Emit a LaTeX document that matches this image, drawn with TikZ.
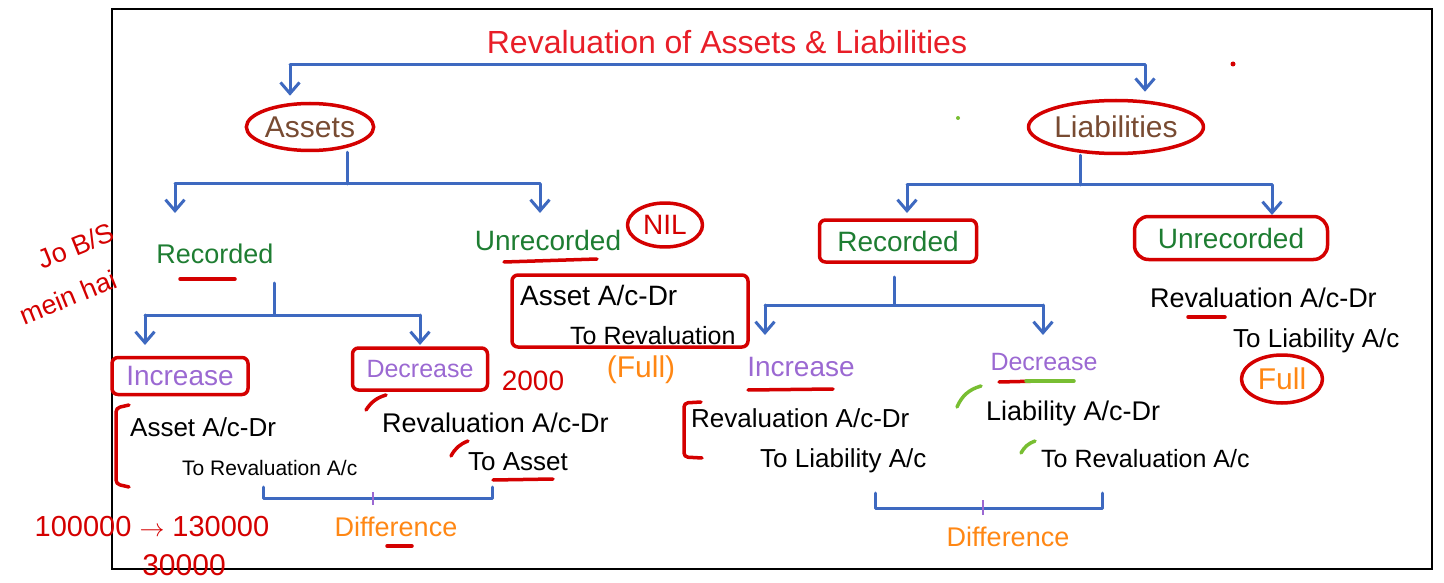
\documentclass[tikz,border=0pt]{standalone}
\usepackage{fontspec}
\setmainfont{Liberation Sans}
\usetikzlibrary{arrows.meta,shapes.geometric}
\definecolor{bluC}{RGB}{62,105,192}
\definecolor{redC}{RGB}{212,0,0}
\definecolor{titleC}{RGB}{232,30,40}
\definecolor{grnC}{RGB}{30,125,50}
\definecolor{purC}{RGB}{155,105,210}
\definecolor{brnC}{RGB}{120,75,50}
\definecolor{orgC}{RGB}{255,135,20}
\definecolor{limeC}{RGB}{120,190,50}
\begin{document}
\begin{tikzpicture}[x=1pt,y=-1pt,
  bl/.style={draw=bluC,line width=3pt,line cap=round,line join=round},
  bla/.style={bl,-{Straight Barb[length=11pt,width=19pt]}},
  rd/.style={draw=redC,line width=3.5pt,line cap=round,line join=round},
  lm/.style={draw=limeC,line width=3.5pt,line cap=round},
  fs/.style={font=\fontsize{#1}{#1}\selectfont},
  txt/.style={inner sep=0pt,text=black},
  gtxt/.style={inner sep=0pt,text=grnC},
  ptxt/.style={inner sep=0pt,text=purC},
  otxt/.style={inner sep=0pt,text=orgC},
  rtxt/.style={inner sep=0pt,text=redC},
  redell/.style={ellipse,rd,inner sep=0pt},
  redbox/.style={rectangle,rd,rounded corners=6pt,inner sep=0pt}]
\useasboundingbox (0,0) rectangle (1444,583);
\draw[line width=2pt] (112,9) rectangle (1432,569);

% title and top branch
\node[inner sep=0pt,text=titleC,fs=32] (title) at (727,42) {Revaluation of Assets \& Liabilities};
\coordinate (tL) at (290,65);
\coordinate (tR) at (1145,65);
\node[redell,text=brnC,fs=30,minimum width=126pt,minimum height=47pt] (assets) at (310,127) {Assets};
\node[redell,text=brnC,fs=30,minimum width=175pt,minimum height=53pt] (liab) at (1116,127) {Liabilities};
\draw[bl] (tL) -- (tR);
\draw[bla] (tL) -- (tL |- assets.north) [shorten >=6pt];
\draw[bla] (tR) -- (tR |- liab.north) [shorten >=7pt];

% ---------- Assets side ----------
\node[gtxt,fs=27] (recA) at (215,254) {Recorded};
\node[gtxt,fs=28] (unrA) at (548,240) {Unrecorded};
\node[redell,text=redC,fs=28,minimum width=75pt,minimum height=44pt] (nil) at (665,225) {NIL};
\coordinate (aJ) at (347,184);
\coordinate (aL) at (175,184);
\coordinate (aR) at (540,184);
\coordinate (aLt) at (175,213);
\coordinate (aRt) at (540,213);
\draw[bl] (assets.south -| aJ) -- (aJ);
\draw[bl] (aL) -- (aR);
\draw[bla] (aL) -- (aLt);
\draw[bla] (aR) -- (aRt);
\draw[rd] (180,279) -- (235,279);
\draw[rd] (504,262) -- (597,259);

% unrecorded asset entry
\node[redbox,minimum width=236pt,minimum height=72pt] (ubox) at (630,311) {};
\node[txt,fs=28,anchor=west] (uA1) at (520,295) {Asset A/c-Dr};
\node[txt,fs=25,anchor=west] (uA2) at (570,336) {To Revaluation};
\node[otxt,fs=30] (fullA) at (641,370) {(Full)};

% recorded asset branches
\coordinate (rJtop) at (274,283);
\coordinate (rJ) at (274,315);
\coordinate (rL) at (145,315);
\coordinate (rR) at (420,315);
\coordinate (rLt) at (145,345);
\coordinate (rRt) at (420,345);
\draw[bl] (rJtop) -- (rJ);
\draw[bl] (rL) -- (rR);
\draw[bla] (rL) -- (rLt);
\draw[bla] (rR) -- (rRt);
\node[redbox,ptxt,fs=28,minimum width=136pt,minimum height=37pt] (incA) at (180,376) {Increase};
\node[redbox,ptxt,fs=25,minimum width=135pt,minimum height=42pt] (decA) at (420,369) {Decrease};
\node[rtxt,fs=28] (n2000) at (533,381) {2000};
\draw[rd] (366,410) to[bend left=20] (386,395);
\draw[rd] (451,456) to[bend left=20] (468,441);

\draw[rd,rounded corners=4pt] (129,405) -- (116,408) -- (116,484) -- (129,487);
\node[txt,fs=26,anchor=west] (iA1) at (130,427) {Asset A/c-Dr};
\node[txt,fs=21,anchor=west] (iA2) at (182,468) {To Revaluation A/c};
\node[txt,fs=27,anchor=west] (dA1) at (382,423) {Revaluation A/c-Dr};
\node[txt,fs=26,anchor=west] (dA2) at (468,462) {To Asset};
\draw[rd] (493,480) -- (553,479);

\coordinate (bA1) at (263,487);
\coordinate (bA2) at (492,487);
\draw[bl] (bA1) -- (263,498) -- (492,498) -- (bA2);
\draw[draw=purC,line width=2.5pt] (373,492) -- (373,505);
\node[otxt,fs=27] (diffA) at (396,527) {Difference};
\draw[rd] (387,546) -- (412,546);

% margin notes
\node[rtxt,fs=27,rotate=22] (jo) at (76,246) {Jo B/S};
\node[rtxt,fs=27,rotate=22] (mein) at (68,297) {mein hai};
\node[rtxt,fs=29] (num1) at (152,527) {100000 $\rightarrow$ 130000};
\node[rtxt,fs=30] (num2) at (184,565) {30000};

% ---------- Liabilities side ----------
\coordinate (lJ) at (1080,185);
\coordinate (lL) at (907,185);
\coordinate (lR) at (1272,185);
\coordinate (lLt) at (907,213);
\coordinate (lRt) at (1272,215);
\draw[bl] (liab.south -| lJ) -- (lJ);
\draw[bl] (lL) -- (lR);
\draw[bla] (lL) -- (lLt);
\draw[bla] (lR) -- (lRt);
\node[redbox,gtxt,fs=28,minimum width=157pt,minimum height=42pt] (recL) at (898,241) {Recorded};
\node[redbox,rounded corners=14pt,gtxt,fs=28,minimum width=193pt,minimum height=43pt] (unrL) at (1231,238) {Unrecorded};

% unrecorded liability entry
\node[txt,fs=27,anchor=west] (uL1) at (1150,298) {Revaluation A/c-Dr};
\draw[rd] (1188,317) -- (1225,317);
\node[txt,fs=26,anchor=west] (uL2) at (1233,341) {To Liability A/c};
\node[redell,otxt,fs=30,minimum width=81pt,minimum height=48pt] (fullL) at (1282,379) {Full};

% recorded liability branches
\coordinate (qJtop) at (894,277);
\coordinate (qJ) at (894,305);
\coordinate (qL) at (765,305);
\coordinate (qR) at (1043,305);
\coordinate (qLt) at (765,335);
\coordinate (qRt) at (1043,335);
\draw[bl] (qJtop) -- (qJ);
\draw[bl] (qL) -- (qR);
\draw[bla] (qL) -- (qLt);
\draw[bla] (qR) -- (qRt);
\node[ptxt,fs=28] (incL) at (801,367) {Increase};
\draw[rd] (748,390) -- (833,389);
\node[ptxt,fs=25] (decL) at (1044,362) {Decrease};
\draw[rd] (999,382) -- (1041,381);
\draw[lm] (1026,381) -- (1074,381);
\draw[lm] (957,407) to[bend left=25] (981,386);
\draw[lm] (1021,453) to[bend left=20] (1035,441);

\draw[rd,rounded corners=4pt] (701,402) -- (684,403) -- (684,457) -- (702,458);
\node[txt,fs=26,anchor=west] (iL1) at (691,418) {Revaluation A/c-Dr};
\node[txt,fs=26,anchor=west] (iL2) at (760,461) {To Liability A/c};
\node[txt,fs=27,anchor=west] (dL1) at (986,414) {Liability A/c-Dr};
\node[txt,fs=25,anchor=west] (dL2) at (1041,459) {To Revaluation A/c};

\coordinate (bL1) at (875,493);
\coordinate (bL2) at (1102,493);
\draw[bl] (bL1) -- (875,508) -- (1102,508) -- (bL2);
\draw[draw=purC,line width=2.5pt] (983,500) -- (983,515);
\node[otxt,fs=27] (diffL) at (1008,537) {Difference};

% stray dots
\fill[redC] (1233,64) circle (2.5pt);
\fill[limeC] (958,118) circle (2pt);
\end{tikzpicture}
\end{document}
